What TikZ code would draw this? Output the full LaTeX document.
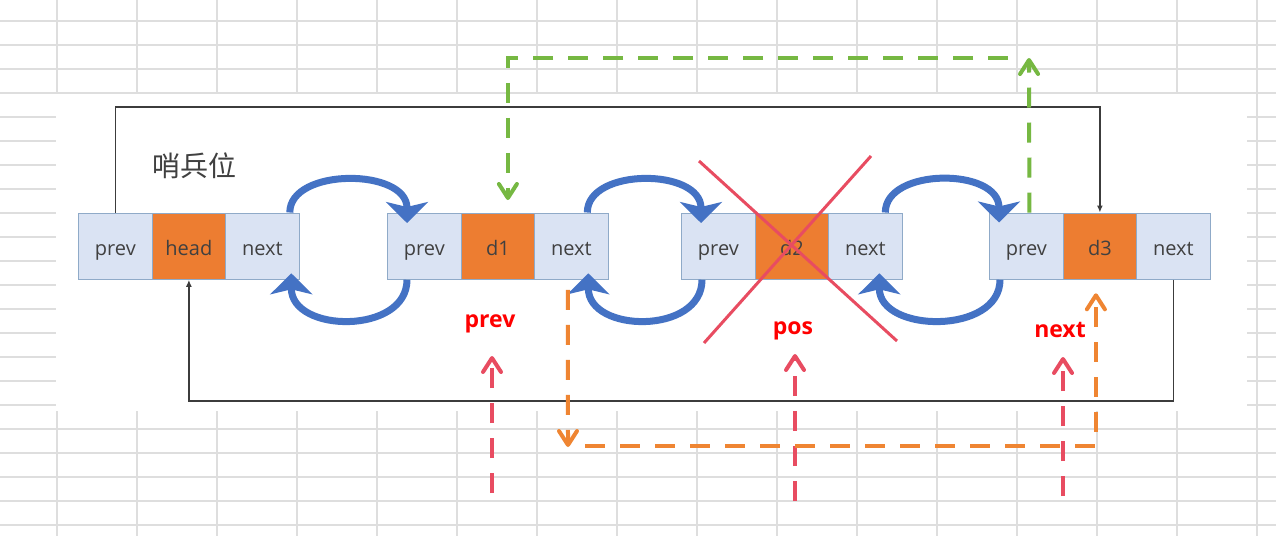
\documentclass[tikz,border=0pt]{standalone}
\usepackage{fontspec}
\setmainfont{Open Sans}
\newfontfamily\cjkfont{Noto Sans CJK SC}
\usetikzlibrary{arrows.meta,calc}
\definecolor{gridgray}{RGB}{222,222,222}
\definecolor{cellblue}{RGB}{218,227,243}
\definecolor{cellborder}{RGB}{143,170,200}
\definecolor{dataorange}{RGB}{237,125,49}
\definecolor{txtgray}{RGB}{64,64,64}
\definecolor{bluearc}{RGB}{68,114,196}
\definecolor{crossred}{RGB}{232,76,97}
\definecolor{labelred}{RGB}{255,0,0}
\definecolor{dashgreen}{RGB}{118,184,66}
\definecolor{dashorange}{RGB}{239,133,50}
\definecolor{framegray}{RGB}{60,60,60}
\tikzset{
  cell/.style={draw=cellborder, line width=1.3pt, minimum width=73.5pt, minimum height=66pt,
    inner sep=0pt, anchor=north west, font=\fontsize{20}{24}\selectfont, text=txtgray,
    text height=21pt, text depth=3pt},
  pcell/.style={cell, fill=cellblue},
  dcell/.style={cell, fill=dataorange},
  bluearrow/.style={draw=bluearc, line width=7pt, -{Stealth[width=42pt,length=21pt,inset=5pt]}},
  framewire/.style={draw=framegray, line width=1.6pt, -{Latex[length=7pt,width=6pt]}},
  dashbase/.style={line width=4pt, dash pattern=on 20pt off 15pt,
    -{Straight Barb[width=18pt,length=14pt,line cap=round,line join=round]}},
  reddash/.style={dashbase, draw=crossred},
  greendash/.style={dashbase, draw=dashgreen},
  orangedash/.style={dashbase, draw=dashorange},
  crossline/.style={draw=crossred, line width=3pt},
  redlabel/.style={font=\bfseries\fontsize{23}{26}\selectfont, text=labelred, inner sep=0pt},
  gridline/.style={draw=gridgray, line width=1.2pt}
}
\begin{document}
\begin{tikzpicture}[x=1pt,y=-1pt]
\useasboundingbox (0,0) rectangle (1276,536);
\fill[white] (0,0) rectangle (1276,536);
% spreadsheet grid
\foreach \gx in {57,137,...,1257} \draw[gridline] (\gx,0) -- (\gx,536);
\foreach \gy in {21,45,...,525} \draw[gridline] (0,\gy) -- (1276,\gy);
\fill[white] (56,94) rectangle (1247,411);

% nodes
\node[pcell] (n1p) at (78,212.5) {prev};
\node[dcell] (n1d) at (151.5,212.5) {head};
\node[pcell] (n1n) at (225,212.5) {next};
\node[pcell] (n2p) at (387,212.5) {prev};
\node[dcell] (n2d) at (460.5,212.5) {d1};
\node[pcell] (n2n) at (534,212.5) {next};
\node[pcell] (n3p) at (681,212.5) {prev};
\node[dcell] (n3d) at (754.5,212.5) {d2};
\node[pcell] (n3n) at (828,212.5) {next};
\node[pcell] (n4p) at (989,212.5) {prev};
\node[dcell] (n4d) at (1062.5,212.5) {d3};
\node[pcell] (n4n) at (1136,212.5) {next};

\node[font=\cjkfont\fontsize{28}{30}\selectfont, text=txtgray] (title) at (194,166) {哨兵位};

% sentinel frame wires
\coordinate (ft) at (0,107);
\coordinate (fb) at (0,401);
\draw[framewire] (n1p.north) -- (n1p.north |- ft) -- (n4d.north |- ft) -- (n4d.north);
\draw[framewire] (n4n.south) -- (n4n.south |- fb) -- (n1d.south |- fb) -- (n1d.south);

% blue arrows (top)
\coordinate (a1s) at ($(n1n.north east)+(-10,0)$);
\coordinate (a1e) at ($(n2p.north west)+(20,10.5)$);
\coordinate (a2s) at ($(n2n.north east)+(-21.5,0)$);
\coordinate (a2e) at ($(n3p.north west)+(20,10.5)$);
\coordinate (a3s) at ($(n3n.north east)+(-17.5,0)$);
\coordinate (a3e) at ($(n4p.north west)+(10,10)$);
\draw[bluearrow] (a1s) .. controls ($(a1s)+(0,-45)$) and ($(a1e)+(0,-55)$) .. (a1e);
\draw[bluearrow] (a2s) .. controls ($(a2s)+(0,-45)$) and ($(a2e)+(0,-55)$) .. (a2e);
\draw[bluearrow] (a3s) .. controls ($(a3s)+(0,-45)$) and ($(a3e)+(0,-55)$) .. (a3e);
% blue arrows (bottom)
\coordinate (b1s) at ($(n2p.south west)+(20,0)$);
\coordinate (b1e) at ($(n1n.south east)+(-8.5,-6.5)$);
\coordinate (b2s) at ($(n3p.south west)+(21,0)$);
\coordinate (b2e) at ($(n2n.south east)+(-20.5,-6.5)$);
\coordinate (b3s) at ($(n4p.south west)+(11,0)$);
\coordinate (b3e) at ($(n3n.south east)+(-23.5,-6.5)$);
\draw[bluearrow] (b1s) .. controls ($(b1s)+(0,55)$) and ($(b1e)+(0,60)$) .. (b1e);
\draw[bluearrow] (b2s) .. controls ($(b2s)+(0,55)$) and ($(b2e)+(0,60)$) .. (b2e);
\draw[bluearrow] (b3s) .. controls ($(b3s)+(0,55)$) and ($(b3e)+(0,60)$) .. (b3e);

% red cross over d2
\draw[crossline] (699,161) -- (897,341);
\draw[crossline] (871,156) -- (704,343);

% red labels
\node[redlabel] (lprev) at (490,324) {prev};
\node[redlabel] (lpos) at (793,331) {pos};
\node[redlabel] (lnext) at (1060,330) {next};

% red dashed pointers
\coordinate (rp0) at (492,493); \coordinate (rp1) at (492,356);
\coordinate (rq0) at (795,501); \coordinate (rq1) at (795,354);
\coordinate (rn0) at (1063,496); \coordinate (rn1) at (1063,357);
\draw[reddash] (rp0) -- (rp1);
\draw[reddash] (rq0) -- (rq1);
\draw[reddash] (rn0) -- (rn1);

% orange dashed
\coordinate (o0) at ($(n2n.south)+(-3.5,10)$);
\coordinate (o1) at (568,447);
\coordinate (o2) at (585,446);
\coordinate (o3) at ($(n4d.south)+(-4,13.5)$);
\draw[orangedash] (o0) -- (o1);
\draw[orangedash] (o2) -- (o2 -| o3) -- (o3);

% green dashed
\coordinate (g0) at ($(n4p.north)+(3,0)$);
\coordinate (g1) at (1029,58);
\coordinate (g2) at (1008,58);
\coordinate (g3) at ($(n2d.north)+(10,-12.5)$);
\draw[greendash] (g0) -- (g1);
\draw[greendash] (g2) -- (g2 -| g3) -- (g3);
\end{tikzpicture}
\end{document}
